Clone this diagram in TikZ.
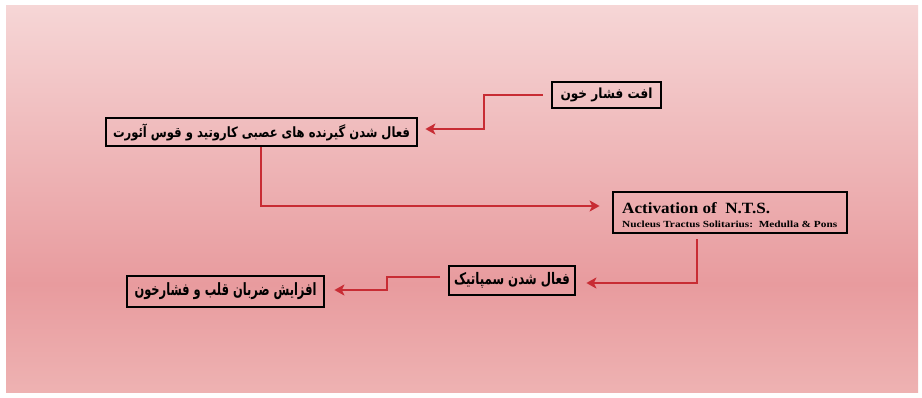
\documentclass[tikz,border=0pt]{standalone}
\usepackage{fontspec}
\setmainfont{Liberation Serif}
\newfontfamily\arabicfont[Script=Arabic]{DejaVu Sans}
\TeXXeTstate=1
\usetikzlibrary{arrows.meta}
\definecolor{bgtop}{RGB}{246,214,214}
\definecolor{bgmid}{RGB}{232,155,158}
\definecolor{bgbot}{RGB}{238,178,178}
\definecolor{arrred}{RGB}{200,44,52}
\pgfdeclareverticalshading{bgshade}{100bp}{color(0bp)=(bgbot); color(25bp)=(bgbot); color(39bp)=(bgmid); color(75bp)=(bgtop); color(100bp)=(bgtop)}
\newcommand{\fatext}[3]{\resizebox*{#1}{#2}{\arabicfont\bfseries #3}}
\tikzset{
  boxnode/.style={draw=black, line width=2.8pt, rectangle, inner sep=0pt},
  arr/.style={draw=arrred, line width=1.8pt, -{Stealth[length=10pt,width=11pt,inset=2.5pt]}},
  entext/.style={inner sep=0pt, anchor=base west, font=\bfseries}
}
\begin{document}
\begin{tikzpicture}[x=1pt,y=-1pt]
\fill[white] (0,0) rectangle (922,397);
\shade[shading=bgshade] (6,5) rectangle (918,392);
\useasboundingbox (0,0) rectangle (922,397);

\node[boxnode, minimum width=109pt, minimum height=26pt] (low) at (606.5,95)
  {\fatext{92pt}{14pt}{\beginR افت فشار خون\endR}};
\node[boxnode, minimum width=311pt, minimum height=28pt] (baro) at (261.5,132)
  {\fatext{297pt}{17pt}{\beginR فعال شدن گیرنده های عصبی کاروتید و قوس آئورت\endR}};
\node[boxnode, minimum width=234pt, minimum height=41pt] (nts) at (730,212.5) {};
\node[entext] (ntsa) at (622,213) {\resizebox{148pt}{11pt}{Activation of\ \ N.T.S.}};
\node[entext] (ntsb) at (622,227) {\resizebox{215pt}{6.5pt}{Nucleus Tractus Solitarius:\ \ Medulla \& Pons}};
\node[boxnode, minimum width=126pt, minimum height=29pt] (symp) at (512,280.5)
  {\fatext{116pt}{16pt}{\beginR فعال شدن سمپاتیک\endR}};
\node[boxnode, minimum width=197pt, minimum height=31pt] (incr) at (225.5,291.5)
  {\fatext{182pt}{17pt}{\beginR افزایش ضربان قلب و فشارخون\endR}};

\coordinate (ka) at (484,112);
\coordinate (kd) at (387,284);

\draw[arr] ([xshift=-8pt]low.west) -| (ka) |- ([xshift=7pt,yshift=3pt]baro.east);
\draw[arr] ([xshift=-0.5pt]baro.south) |- ([xshift=-12pt,yshift=6.5pt]nts.west);
\draw[arr] ([xshift=-33pt,yshift=-5pt]nts.south) |- ([xshift=10pt,yshift=-2.5pt]symp.east);
\draw[arr] ([xshift=-8pt,yshift=3.5pt]symp.west) -| (kd) |- ([xshift=9pt,yshift=1.5pt]incr.east);
\end{tikzpicture}
\end{document}
